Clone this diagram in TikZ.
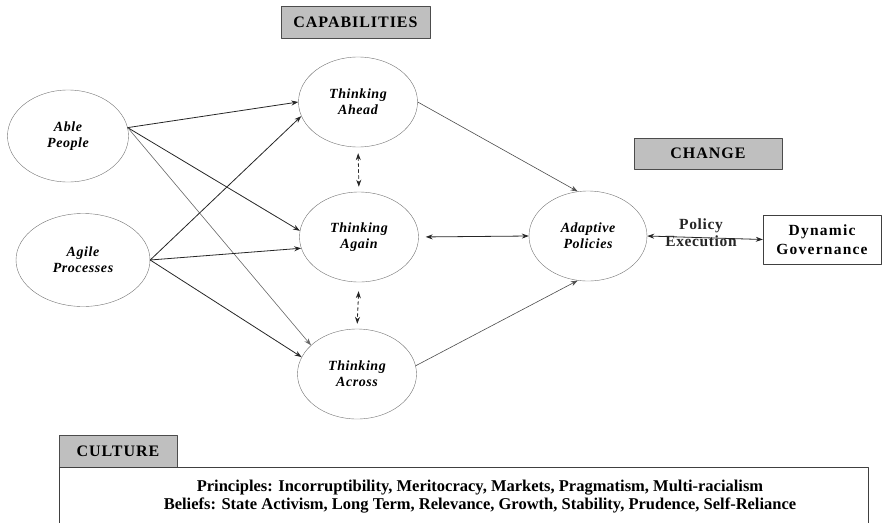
\documentclass[tikz,border=0pt]{standalone}
\usepackage{fontspec}
\setmainfont{Liberation Serif}
\usetikzlibrary{arrows.meta,shapes.geometric}
\begin{document}
\begin{tikzpicture}[x=1pt, y=-1pt, line join=round, line cap=round,
	>={Stealth[length=7pt,width=5pt]},
	ell/.style={draw=black!55, ellipse, minimum width=#1, minimum height=90pt, inner sep=0pt, align=center,
		font=\fontsize{14}{16}\selectfont\bfseries\itshape\addfontfeatures{LetterSpace=4}},
	ell/.default=119pt,
	head/.style={draw=black!70, fill=black!25, font=\fontsize{16}{18}\selectfont\bfseries\addfontfeatures{LetterSpace=6}},
	link/.style={->, black!85, line width=0.8pt},
	dlink/.style={<->, black!85, line width=0.8pt, dashed, dash pattern=on 3pt off 3pt}]
	\clip (0,0) rectangle (882,522);
	\useasboundingbox (0,0) rectangle (882,522);
	% kopjes
	\node[head, minimum width=149pt, minimum height=32pt] (cap) at (355.5,22) {CAPABILITIES};
	\node[head, minimum width=148pt, minimum height=31pt] (chg) at (708,153.5) {CHANGE};
	\node[head, minimum width=118pt, minimum height=32pt] (cul) at (118,451) {CULTURE};
	% cirkels
	\node[ell=121pt, minimum height=92pt] (able) at (68,136) {Able\\People};
	\node[ell=134pt, minimum height=93pt] (agile) at (83,260) {Agile\\Processes};
	\node[ell] (ahead) at (358,102) {Thinking\\Ahead};
	\node[ell] (again) at (359,237) {Thinking\\Again};
	\node[ell] (across) at (357,374) {Thinking\\Across};
	\node[ell=118pt] (adapt) at (588,236) {Adaptive\\Policies};
	\node[draw=black!75, minimum width=118pt, minimum height=49pt, align=center,
		font=\fontsize{15.5}{19}\selectfont\bfseries\addfontfeatures{LetterSpace=8}] (gov) at (822,239.5) {Dynamic\\Governance};
	% pijlen
	\draw[link] (able.8) -- (ahead.180);
	\draw[link] (able.8) -- (again.174);
	\draw[link, black!60, line width=0.6pt] (able.8) -- (across.148);
	\draw[link] (agile.east) -- (ahead.194);
	\draw[link] (agile.east) -- (again.191);
	\draw[link] (agile.east) -- (across.163);
	\draw[link, black!70, line width=0.6pt] (ahead.east) -- (adapt.103);
	\draw[link, black!70, line width=0.6pt] (across.8) -- (adapt.257);
	\draw[link, <->, shorten <=7pt] (again.east) -- (adapt.west);
	\draw[dlink, shorten <=6pt, shorten >=5pt] (ahead.south) -- (again.north);
	\draw[dlink, shorten <=9pt, shorten >=5pt] (again.south) -- (across.north);
	\draw[link, <->] (adapt.east) -- (gov.west)
		node[midway, xshift=-4pt, yshift=5pt, align=center, font=\fontsize{15.5}{17}\selectfont\bfseries\addfontfeatures{LetterSpace=4}] (pol) {Policy\\Execution};
	% cultuur
	\draw[black!75, line width=0.8pt] (59,467) rectangle (868,540);
	\node[align=center, font=\fontsize{16.5}{18}\selectfont\bfseries] (val) at (480,497) {Principles: Incorruptibility, Meritocracy, Markets, Pragmatism, Multi-racialism\\
		Beliefs: State Activism, Long Term, Relevance, Growth, Stability, Prudence, Self-Reliance};
\end{tikzpicture}
\end{document}
